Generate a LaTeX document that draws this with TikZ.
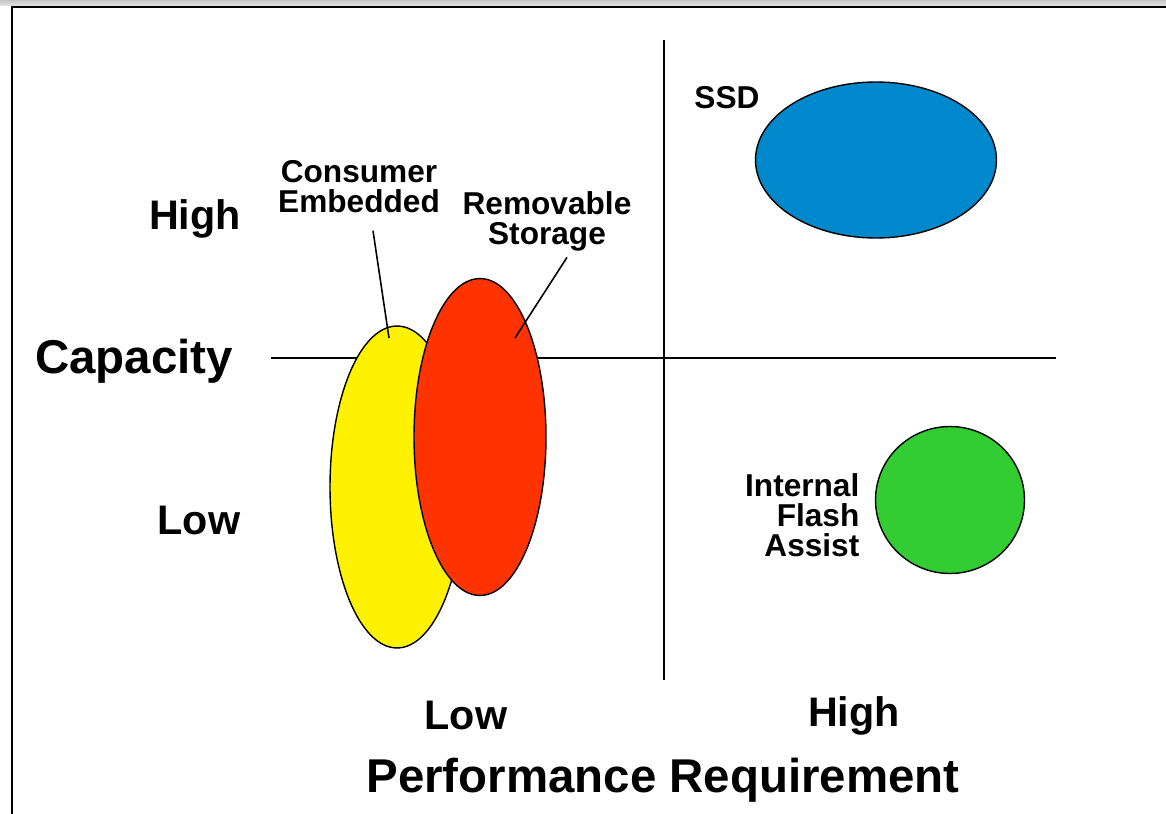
\documentclass[tikz,border=0pt]{standalone}
\usepackage{fontspec}
\setmainfont{Liberation Sans}
\usetikzlibrary{shapes.geometric,positioning}
\definecolor{ssdblue}{RGB}{0,136,204}
\definecolor{remred}{RGB}{255,51,0}
\definecolor{ifagreen}{RGB}{51,204,51}

\begin{document}
\begin{tikzpicture}[x = 0.02cm, y = -0.02cm, line width = 0.9pt,
    blob/.style = {ellipse, draw, line width = 0.8pt, inner sep = 0pt},
    tag/.style = {font = \fontsize{18}{17}\selectfont\bfseries, align = center},
    axislabel/.style = {font = \fontsize{23.5}{26}\selectfont\bfseries},
    axistitle/.style = {font = \fontsize{27}{30}\selectfont\bfseries}]

    \useasboundingbox (0, 0) rectangle (1166, 814);
    \shade [top color = gray!45, bottom color = gray!20] (0, 0) rectangle (1166, 6);
    \draw [line width = 1.2pt] (12, 814) -- (12, 7) -- (1166, 7);

    % quadrants
    \draw (664, 40) -- (664, 680);
    \draw (271, 358) -- (1056, 358);

    \node [blob, fill = yellow, minimum width = 2.68cm, minimum height = 6.44cm] (cons) at (397, 487) {};
    \node [blob, fill = remred, minimum width = 2.64cm, minimum height = 6.34cm] (remov) at (480, 437) {};
    \node [blob, fill = ssdblue, minimum width = 4.82cm, minimum height = 3.12cm] (ssd) at (876, 160) {};
    \node [blob, fill = ifagreen, minimum width = 2.98cm, minimum height = 2.94cm] (ifa) at (950, 500) {};

    \node [tag] (cons label) at (359, 187) {Consumer\\Embedded};
    \node [tag] (remov label) at (547, 221) {Removable\\Storage};
    \node [tag] (ssd label) at (727, 98) {SSD};
    \node [tag, align = right, anchor = east] (ifa label) at (866, 515) {Internal\\Flash\\Assist};

    \coordinate (cons tip) at (389, 338);
    \coordinate (remov tip) at (515, 338);
    \draw ([xshift = 0.28cm, yshift = -0.22cm] cons label.south) -- (cons tip);
    \draw ([xshift = 0.4cm] remov label.south) -- (remov tip);

    \node [axislabel] (cap high) at (195, 219) {High};
    \node [axistitle] (cap) at (134, 361) {Capacity};
    \node [axislabel] (cap low) at (199, 520) {Low};

    \node [axislabel] (perf low) at (466, 715) {Low};
    \node [axislabel] (perf high) at (854, 716) {High};
    \node [axistitle] (perf) at (663, 780) {Performance Requirement};

\end{tikzpicture}
\end{document}
